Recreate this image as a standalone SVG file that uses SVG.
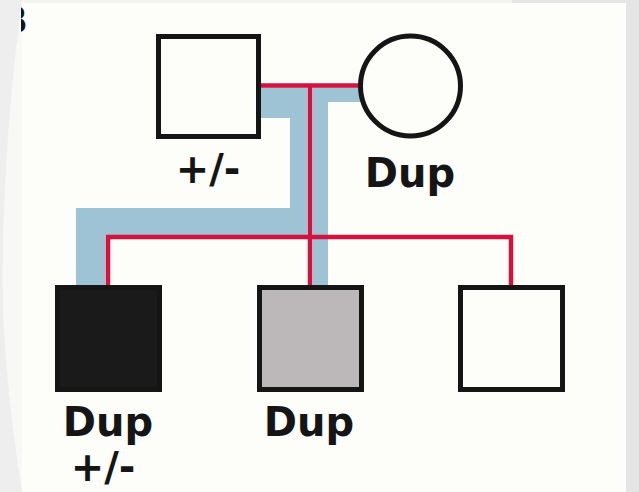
<svg xmlns="http://www.w3.org/2000/svg" width="639" height="492" viewBox="0 0 639 492">
  <defs>
    <style>
      .lbl { font-family: "DejaVu Sans", "Liberation Sans", sans-serif; font-weight: bold; font-size: 40px; fill: #151515; text-anchor: middle; }
      .node { stroke: #151515; stroke-width: 5; }
      .red { fill: none; stroke: #d3123f; stroke-width: 4.5; stroke-linejoin: miter; }
      .blue { fill: #9dc3d4; stroke: none; }
    </style>
    <clipPath id="bclip"><rect x="21" y="0" width="20" height="60"/></clipPath>
  </defs>

  <!-- background -->
  <rect x="0" y="0" width="639" height="492" fill="#e6e5e6"/>
  <rect x="0" y="0" width="22" height="492" fill="#efeeee"/>
  <path d="M22,0 C6,120 0,250 4,330 C8,400 16,450 22,492 Z" fill="#f8f8f7"/>
  <rect x="22" y="0" width="490" height="3" fill="#f4f4f2"/>
  <rect x="22" y="3" width="604" height="489" fill="#fdfdf9"/>
  <text x="-1" y="33" clip-path="url(#bclip)" style="font-family: 'DejaVu Sans', sans-serif; font-weight: bold; font-size: 38px; fill: #151515;">B</text>

  <!-- connectors -->
  <g id="connectors">
    <polygon class="blue" points="261,87.5 307.5,87.5 307.5,235 105.5,235 105.5,285 76,285 76,208 290,208 290,118 261,118"/>
    <polygon class="blue" points="312.5,87.5 360,87.5 360,102 328,102 328,285 312.5,285"/>
    <line class="red" x1="261" y1="85.5" x2="360" y2="85.5"/>
    <line class="red" x1="310" y1="85.5" x2="310" y2="285"/>
    <polyline class="red" points="108,285 108,237 511,237 511,285"/>
  </g>

  <!-- parents -->
  <g id="father">
    <rect class="node" x="158.5" y="36.5" width="100" height="100" fill="#fdfdf9"/>
    <text class="lbl" x="208" y="183">+/-</text>
  </g>
  <g id="mother">
    <circle class="node" cx="410.5" cy="86" r="50" fill="#fdfdf9"/>
    <text class="lbl" x="410" y="187">Dup</text>
  </g>

  <!-- children -->
  <g id="child1">
    <rect class="node" x="57.5" y="287.5" width="102" height="102" fill="#1a1a1a"/>
    <text class="lbl" x="108" y="436">Dup</text>
    <text class="lbl" x="103" y="481">+/-</text>
  </g>
  <g id="child2">
    <rect class="node" x="259.5" y="287.5" width="102" height="102" fill="#bcb8b9"/>
    <text class="lbl" x="309" y="436">Dup</text>
  </g>
  <g id="child3">
    <rect class="node" x="460.5" y="287.5" width="102" height="102" fill="#fdfdf9"/>
  </g>
</svg>
